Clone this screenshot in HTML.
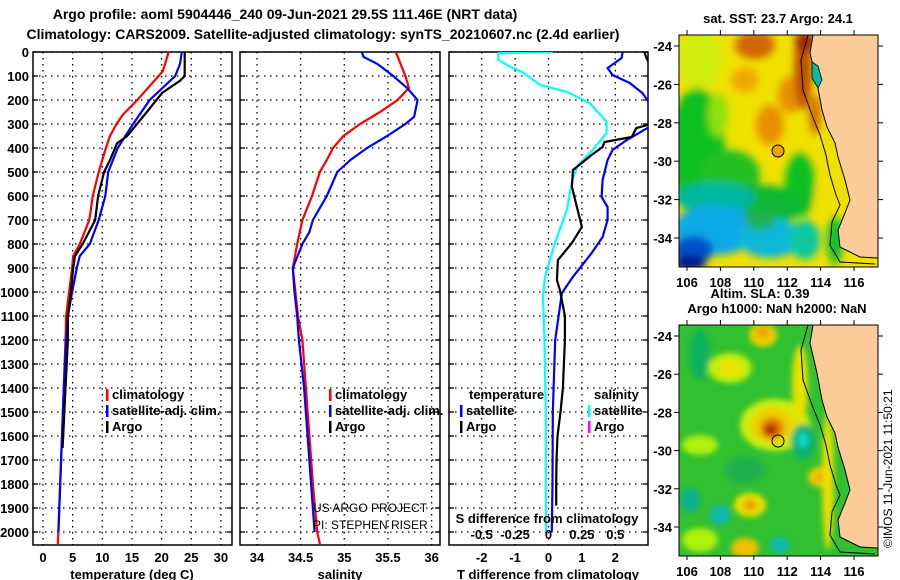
<!DOCTYPE html>
<html><head><meta charset="utf-8"><style>
html,body{margin:0;padding:0;background:#fff;}
svg{display:block;font-family:"Liberation Sans",sans-serif;}
.b{font-weight:bold;font-size:13px;}
.t{font-weight:bold;font-size:14px;}
</style></head><body>
<svg id="fig" width="900" height="580" viewBox="0 0 900 580">
<defs>
<clipPath id="cp1"><rect x="33" y="52" width="199" height="493"/></clipPath>
<clipPath id="cp2"><rect x="240" y="52" width="200" height="493"/></clipPath>
<clipPath id="cp3"><rect x="449" y="52" width="199" height="493"/></clipPath>
<clipPath id="cpm1"><rect x="679" y="35" width="199" height="232"/></clipPath>
<clipPath id="cpm2"><rect x="679" y="325" width="199" height="231"/></clipPath>
<filter id="bl" x="-50%" y="-50%" width="200%" height="200%"><feGaussianBlur stdDeviation="4"/></filter>
<filter id="bl2" x="-50%" y="-50%" width="200%" height="200%"><feGaussianBlur stdDeviation="3"/></filter>
</defs>
<text class="t" x="285" y="19" text-anchor="middle">Argo profile: aoml 5904446_240 09-Jun-2021 29.5S 111.46E (NRT data)</text>
<text class="t" x="323" y="39" text-anchor="middle">Climatology: CARS2009. Satellite-adjusted climatology: synTS_20210607.nc (2.4d earlier)</text>
<g id="plots"></g>

<!-- top map -->
<text class="b" x="778" y="23" text-anchor="middle">sat. SST: 23.7 Argo: 24.1</text>
<g clip-path="url(#cpm1)">
<rect x="679" y="35" width="199" height="232" fill="#f0e000"/>
<g filter="url(#bl)">
<ellipse cx="700" cy="60" rx="22" ry="30" fill="#d0ee10"/>
<ellipse cx="697" cy="150" rx="28" ry="62" fill="#10c020"/>
<ellipse cx="730" cy="175" rx="30" ry="25" fill="#20c020"/>
<ellipse cx="718" cy="115" rx="10" ry="22" fill="#90e010"/>
<ellipse cx="755" cy="45" rx="20" ry="14" fill="#d06800"/>
<ellipse cx="745" cy="80" rx="14" ry="12" fill="#f0a800"/>
<ellipse cx="770" cy="125" rx="14" ry="20" fill="#e89000"/>
<ellipse cx="790" cy="95" rx="12" ry="18" fill="#e89000"/>
<ellipse cx="803" cy="70" rx="9" ry="40" fill="#c05000"/>
<ellipse cx="805" cy="42" rx="10" ry="10" fill="#a02000"/>
<ellipse cx="800" cy="185" rx="15" ry="32" fill="#10c020"/>
<ellipse cx="760" cy="205" rx="45" ry="20" fill="#10b830"/>
<ellipse cx="715" cy="198" rx="40" ry="16" fill="#00b8a0"/>
<ellipse cx="715" cy="230" rx="42" ry="25" fill="#10a8e8"/>
<ellipse cx="770" cy="238" rx="32" ry="20" fill="#10b8d8"/>
<ellipse cx="760" cy="220" rx="15" ry="10" fill="#20b050"/>
<ellipse cx="805" cy="240" rx="15" ry="20" fill="#10c8a0"/>
<ellipse cx="693" cy="250" rx="20" ry="14" fill="#0050c8"/>
<ellipse cx="690" cy="263" rx="16" ry="8" fill="#001890"/>
<ellipse cx="825" cy="198" rx="9" ry="20" fill="#f0e000"/>
<ellipse cx="835" cy="240" rx="8" ry="25" fill="#10c030"/>
<ellipse cx="815" cy="115" rx="6" ry="20" fill="#d07000"/>
</g>
<polygon points="813,35 810,53 817,83 822,110 827,127 835,143 838,157 845,180 850,200 845,213 838,230 840,247 860,257 877,258 880,258 880,30" fill="#fbcb98" stroke="#000" stroke-width="1"/>
<polyline points="808,35 801,60 803,90 812,115 820,135 826,155 830,175 836,195 840,205 832,222 830,245 840,262 875,264" fill="none" stroke="#000" stroke-width="1"/>
<path d="M812,62 l6,4 l4,14 l-4,8 l-6,-10z" fill="#10b8a0" stroke="#000" stroke-width="0.8"/>
<circle cx="778" cy="151" r="6" fill="#f0a000" stroke="#000" stroke-width="1"/>
</g>
<rect x="679" y="35" width="199" height="232" fill="none" stroke="#000"/>
<g id="map1axes"></g>
<text class="b" x="760" y="298" text-anchor="middle">Altim. SLA: 0.39</text>
<text class="b" x="777" y="313" text-anchor="middle">Argo h1000: NaN h2000: NaN</text>

<!-- bottom map -->
<g clip-path="url(#cpm2)">
<rect x="679" y="325" width="199" height="231" fill="#30c030"/>
<g filter="url(#bl2)">
<ellipse cx="730" cy="368" rx="22" ry="15" fill="#c0f010"/>
<ellipse cx="730" cy="368" rx="12" ry="8" fill="#f0e000"/>
<ellipse cx="763" cy="335" rx="14" ry="12" fill="#e8d000"/>
<ellipse cx="763" cy="332" rx="6" ry="6" fill="#f0a000"/>
<ellipse cx="700" cy="355" rx="10" ry="25" fill="#10b060"/>
<ellipse cx="775" cy="425" rx="35" ry="26" fill="#c8f010"/>
<ellipse cx="772" cy="425" rx="22" ry="18" fill="#f0d000"/>
<ellipse cx="772" cy="428" rx="12" ry="11" fill="#e08000"/>
<ellipse cx="771" cy="430" rx="6" ry="6" fill="#b02000"/>
<ellipse cx="803" cy="442" rx="12" ry="18" fill="#10b070"/>
<ellipse cx="803" cy="440" rx="5" ry="7" fill="#10d8d0"/>
<ellipse cx="820" cy="477" rx="12" ry="10" fill="#f0d000"/>
<ellipse cx="820" cy="477" rx="5" ry="5" fill="#f0a000"/>
<ellipse cx="750" cy="505" rx="16" ry="12" fill="#f0e000"/>
<ellipse cx="750" cy="505" rx="7" ry="6" fill="#f0a000"/>
<ellipse cx="745" cy="548" rx="14" ry="10" fill="#f0c000"/>
<ellipse cx="720" cy="515" rx="10" ry="10" fill="#10b8b0"/>
<ellipse cx="690" cy="500" rx="10" ry="12" fill="#10b090"/>
<ellipse cx="780" cy="545" rx="10" ry="8" fill="#10b8b0"/>
<ellipse cx="700" cy="445" rx="18" ry="10" fill="#b0f010"/>
<ellipse cx="700" cy="540" rx="18" ry="12" fill="#b0f010"/>
<ellipse cx="745" cy="470" rx="20" ry="14" fill="#20b050"/>
<ellipse cx="800" cy="385" rx="8" ry="40" fill="#e8e000"/>
<ellipse cx="828" cy="480" rx="6" ry="70" fill="#e8e000"/>
</g>
<polygon points="813,325 810,343 817,373 822,400 827,417 835,433 838,447 845,470 850,490 845,503 838,520 840,537 860,547 877,548 880,548 880,320" fill="#fbcb98" stroke="#000" stroke-width="1"/>
<polyline points="808,325 801,350 803,380 812,405 820,425 826,445 830,465 836,485 840,495 832,512 830,535 840,552 875,554" fill="none" stroke="#000" stroke-width="1"/>
<circle cx="778" cy="441" r="6" fill="none" stroke="#000" stroke-width="1"/>
</g>
<rect x="679" y="325" width="199" height="231" fill="none" stroke="#000"/>
<g id="map2axes"></g>
<text x="892" y="548" font-size="12" transform="rotate(-90 892 548)">©IMOS 11-Jun-2021 11:50:21</text>
</svg>
<script>
// ---------- data ----------
var depthTicks=[0,100,200,300,400,500,600,700,800,900,1000,1100,1200,1300,1400,1500,1600,1700,1800,1900,2000];
var tTicks=[0,5,10,15,20,25,30];
var sTicks=[34,34.5,35,35.5,36];
var dTTicks=[-2,-1,0,1,2];
var dSTicks=[-0.5,-0.25,0,0.25,0.5];
var tempClimDepth=[0,80,200,260,300,350,400,500,600,700,800,850,900,1000,1100,1200,1400,1600,1800,2000,2050];
var tempClimVal=[21.2,20.2,15.9,13.5,12.4,11.3,10.6,9.4,8.4,7.8,6.2,5.1,4.9,4.4,3.9,3.8,3.5,3.2,2.9,2.6,2.5];
var tempSatDepth=[0,50,100,200,300,400,500,600,700,800,850,900,1000,1100,1200,1400,1600,1800,2000];
var tempSatVal=[23.4,23.1,22.3,18.0,15.2,12.6,11.0,10.5,9.4,7.9,6.2,5.7,4.9,4.2,3.9,3.5,3.2,2.9,2.6];
var tempArgoDepth=[0,100,120,170,250,350,380,450,500,600,700,800,850,900,1000,1100,1200,1400,1600,1650];
var tempArgoVal=[23.9,23.9,23.1,20.1,17.5,14.2,12.5,11.3,10.3,9.3,8.8,6.7,5.4,5.1,4.7,4.2,4.2,3.8,3.4,3.3];
var salClimDepth=[0,100,150,200,250,300,350,400,450,500,600,700,800,900,1000,1100,1200,1400,1600,1800,2000,2050];
var salClimVal=[35.59,35.70,35.74,35.61,35.41,35.18,34.99,34.87,34.80,34.72,34.63,34.52,34.46,34.41,34.44,34.47,34.52,34.56,34.6,34.64,34.69,34.72];
var salSatDepth=[0,20,50,100,150,200,270,300,350,400,450,500,600,700,750,800,900,1000,1100,1200,1400,1600,1800,2000];
var salSatVal=[35.2,35.22,35.38,35.56,35.72,35.84,35.8,35.7,35.49,35.26,35.07,34.92,34.8,34.64,34.6,34.52,34.41,34.43,34.46,34.48,34.54,34.58,34.62,34.66];
var dSSatDepth=[0,5,33,62,83,137,166,213,291,338,408,479,541,658,796,937,1020,1200,1500,1800,2000];
var dSSatVal=[0.033,-0.376,-0.376,-0.286,-0.197,-0.063,0.138,0.309,0.435,0.435,0.331,0.212,0.175,0.138,0.048,-0.026,-0.041,-0.03,-0.02,-0.02,-0.019];
var dTSatDepth=[0,25,67,96,129,171,200,250,290,317,367,408,450,533,604,646,700,771,838,937,1004,1200,1500,1800,2000];
var dTSatVal=[2.22,2.19,1.77,1.92,2.43,2.81,2.96,3.3,3.3,2.96,2.34,1.92,1.77,1.62,1.59,1.77,1.77,1.62,1.29,0.73,0.40,0.2,0.13,0.12,0.1];
var dTArgoDepth=[0,25,150,280,304,317,354,375,396,429,492,562,646,729,796,867,950,992,1100,1200,1400,1500,1600,1700,1800,1890];
var dTArgoVal=[2.87,2.93,3.4,3.4,2.96,2.63,2.49,1.68,1.62,1.29,0.73,0.70,0.85,1.0,0.70,0.28,0.25,0.34,0.49,0.49,0.43,0.36,0.27,0.24,0.23,0.23];
var lonTicks=[106,108,110,112,114,116];
var latTicks=[-24,-26,-28,-30,-32,-34];

// ---------- scales ----------
function yD(d){return 52+d*0.24;}
function xT(v){return 43+v*5.93;}
function xS(v){return 257+(v-34)*87.3;}
function xDT(v){return 548.5+v*33.4;}
function xDS(v){return 548.5+v*133.6;}
function lonX(v){return 687+(v-106)*16.7;}
function latY1(v){return 46+(-24-v)*19.2;}
function latY2(v){return 336+(-24-v)*19.1;}

var NS="http://www.w3.org/2000/svg";
var root=document.getElementById('plots');
function el(tag,attrs,parent){var e=document.createElementNS(NS,tag);for(var k in attrs)e.setAttribute(k,attrs[k]);(parent||root).appendChild(e);return e;}
function txt(s,x,y,anchor,cls,parent){var e=el('text',{x:x,y:y,'text-anchor':anchor,'class':cls||'b'},parent);e.textContent=s;return e;}

var panels=[
 {x0:33,x1:232,clip:'cp1',ticks:tTicks,sx:xT,name:'temperature'},
 {x0:240,x1:440,clip:'cp2',ticks:sTicks,sx:xS,name:'salinity'},
 {x0:449,x1:648,clip:'cp3',ticks:dTTicks,sx:xDT,name:'difference'}
];
panels.forEach(function(p,i){
  var g=el('g',{});
  
  
  depthTicks.forEach(function(d){
    var l=el('line',{x1:p.x0,x2:p.x1,y1:yD(d),y2:yD(d),stroke:'#000','stroke-dasharray':'1.5,4.5','stroke-width':1.3},g);
    
    
    el('line',{x1:p.x0,x2:p.x0+5,y1:yD(d),y2:yD(d),stroke:'#000','stroke-width':1.3},g);
    el('line',{x1:p.x1-5,x2:p.x1,y1:yD(d),y2:yD(d),stroke:'#000','stroke-width':1.3},g);
  });
  p.ticks.forEach(function(v){
    var x=p.sx(v);
    var l=el('line',{x1:x,x2:x,y1:52,y2:545,stroke:'#000','stroke-dasharray':'1.5,4.5','stroke-width':1.3},g);
    
    
    var t=txt(String(v),x,562,'middle','b',g);
    
    
  });
  var r=el('rect',{x:p.x0,y:52,width:p.x1-p.x0,height:493,fill:'none',stroke:'#000','stroke-width':1.5},g);
  
  
});
depthTicks.forEach(function(d){
  var t=txt(String(d),29,yD(d)+5,'end');
  
  
});
var a1=txt('temperature (deg C)',132,579,'middle');


var a2=txt('salinity',340,579,'middle');


var a3=txt('T difference from climatology',548,579,'middle');



function line(dep,val,sx,color,clip,name){
  var pts=dep.map(function(d,i){return sx(val[i]).toFixed(1)+','+yD(d).toFixed(1);}).join(' ');
  var pl=el('polyline',{points:pts,fill:'none',stroke:color,'stroke-width':2.2,'clip-path':'url(#'+clip+')'});
  
  
}
line(tempClimDepth,tempClimVal,xT,'#ff0000','cp1','temp-climatology-line');
line(tempSatDepth,tempSatVal,xT,'#0000ff','cp1','temp-satellite-line');
line(tempArgoDepth,tempArgoVal,xT,'#000000','cp1','temp-argo-line');
line(salClimDepth,salClimVal,xS,'#ff0000','cp2','sal-climatology-line');
line(salSatDepth,salSatVal,xS,'#0000ff','cp2','sal-satellite-line');
line(dSSatDepth,dSSatVal,xDS,'#00ffff','cp3','s-diff-satellite-line');
line(dTSatDepth,dTSatVal,xDT,'#0000ff','cp3','t-diff-satellite-line');
line(dTArgoDepth,dTArgoVal,xDT,'#000000','cp3','t-diff-argo-line');

function legend(x,y,color,label,name){
  var m=el('rect',{x:x,y:y-10,width:2.5,height:12,fill:color});
  
  
  var t=txt(label,x+6,y,'start');
  
  
}
legend(106,399,'#ff0000','climatology','legend-climatology');
legend(106,415,'#0000ff','satellite-adj. clim.','legend-satellite-adj');
legend(106,431,'#000000','Argo','legend-argo');
legend(329,399,'#ff0000','climatology','legend-sal-climatology');
legend(329,415,'#0000ff','satellite-adj. clim.','legend-sal-satellite-adj');
legend(329,431,'#000000','Argo','legend-sal-argo');
var lt=txt('temperature',469,399,'start');


var ls=txt('salinity',594,399,'start');


legend(460,415,'#0000ff','satellite','legend-t-satellite');
legend(460,431,'#000000','Argo','legend-t-argo');
legend(588,415,'#00ffff','satellite','legend-s-satellite');
legend(588,431,'#ff00ff','Argo','legend-s-argo');
var sd=txt('S difference from climatology',547,523,'middle');


dSTicks.forEach(function(v){
  var t=txt(String(v),xDS(v),539,'middle');
  
  
});
var c1=el('text',{x:313,y:512,'font-size':12});
c1.textContent='US ARGO PROJECT';


var c2=el('text',{x:313,y:529,'font-size':12});
c2.textContent='PI: STEPHEN RISER';



function mapAxes(gid,top,bottom,latY,labY){
  var g=document.getElementById(gid);
  lonTicks.forEach(function(v){
    var x=lonX(v);
    el('line',{x1:x,x2:x,y1:top-5,y2:top,stroke:'#000'},g);
    el('line',{x1:x,x2:x,y1:bottom,y2:bottom+4,stroke:'#000'},g);
    var t=txt(String(v),x,labY,'middle','b',g);
    
    
  });
  latTicks.forEach(function(v){
    var y=latY(v);
    el('line',{x1:674,x2:679,y1:y,y2:y,stroke:'#000'},g);
    el('line',{x1:878,x2:883,y1:y,y2:y,stroke:'#000'},g);
    var t=txt(String(v),672,y+5,'end','b',g);
    
    
  });
}
mapAxes('map1axes',35,267,latY1,287);
mapAxes('map2axes',325,556,latY2,576);
</script>
</body></html>
